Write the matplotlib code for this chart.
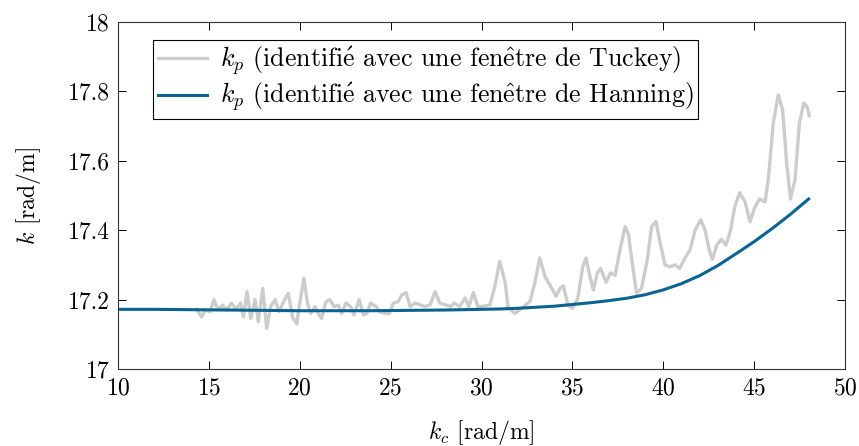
import matplotlib.pyplot as plt

plt.rcParams['font.family'] = ['cmr10', 'DejaVu Serif']
plt.rcParams['mathtext.fontset'] = 'cm'
plt.rcParams['axes.formatter.use_mathtext'] = True

# k_p identifie avec la fenetre de Tuckey (bruite)
kc_tuckey = [14.33, 14.6, 14.8, 15.06, 15.28, 15.5, 15.75, 15.98, 16.25, 16.5,
             16.75, 16.9, 17.1, 17.3, 17.54, 17.72, 17.96, 18.18, 18.4, 18.64,
             18.87, 19.1, 19.37, 19.6, 19.83, 20.0, 20.23, 20.42, 20.6, 20.84,
             21.02, 21.2, 21.44, 21.66, 21.88, 22.12, 22.3, 22.54, 22.8, 22.98,
             23.27, 23.5, 23.68, 23.9, 24.2, 24.4, 24.7, 24.93, 25.15, 25.42,
             25.6, 25.85, 26.07, 26.34, 26.6, 26.9, 27.17, 27.44, 27.7, 28.0,
             28.3, 28.5, 28.8, 29.1, 29.3, 29.55, 29.8, 30.0, 30.47, 30.74,
             31.0, 31.3, 31.46, 31.84, 32.2, 32.67, 32.94, 33.2, 33.5, 33.77,
             34.1, 34.32, 34.5, 34.76, 35.0, 35.3, 35.57, 35.75, 35.97, 36.15,
             36.37, 36.55, 36.85, 37.1, 37.35, 37.58, 37.9, 38.08, 38.32, 38.53,
             38.8, 39.12, 39.36, 39.6, 39.8, 40.1, 40.37, 40.65, 40.9, 41.2,
             41.47, 41.75, 42.06, 42.3, 42.53, 42.7, 42.94, 43.2, 43.45, 43.7,
             43.94, 44.2, 44.5, 44.77, 45.05, 45.3, 45.6, 45.78, 46.05, 46.33,
             46.57, 46.79, 47.0, 47.25, 47.49, 47.74, 47.92, 48.03]
k_tuckey = [17.172, 17.15, 17.17, 17.165, 17.20, 17.17, 17.184, 17.17, 17.19, 17.172,
            17.19, 17.15, 17.223, 17.146, 17.20, 17.136, 17.232, 17.117, 17.18, 17.20,
            17.165, 17.194, 17.218, 17.15, 17.13, 17.19, 17.262, 17.19, 17.16, 17.18,
            17.16, 17.146, 17.194, 17.20, 17.18, 17.184, 17.16, 17.19, 17.18, 17.156,
            17.20, 17.156, 17.16, 17.19, 17.18, 17.165, 17.16, 17.16, 17.19, 17.194,
            17.213, 17.22, 17.18, 17.19, 17.185, 17.18, 17.185, 17.223, 17.19, 17.185,
            17.18, 17.19, 17.18, 17.205, 17.18, 17.22, 17.18, 17.18, 17.185, 17.24,
            17.31, 17.25, 17.178, 17.16, 17.175, 17.195, 17.25, 17.32, 17.266, 17.242,
            17.21, 17.232, 17.24, 17.184, 17.175, 17.204, 17.295, 17.32, 17.266, 17.228,
            17.276, 17.29, 17.25, 17.277, 17.27, 17.333, 17.41, 17.39, 17.295, 17.218,
            17.232, 17.314, 17.41, 17.425, 17.37, 17.30, 17.295, 17.30, 17.29, 17.32,
            17.343, 17.40, 17.43, 17.40, 17.343, 17.316, 17.357, 17.374, 17.357, 17.40,
            17.468, 17.508, 17.482, 17.424, 17.468, 17.49, 17.482, 17.545, 17.708, 17.79,
            17.746, 17.593, 17.49, 17.545, 17.708, 17.767, 17.756, 17.73]

# k_p identifie avec la fenetre de Hanning (lisse)
kc_hanning = [10, 12, 14, 16, 18, 20, 22, 24, 26, 28, 30, 31, 32, 33, 34, 35,
              36, 37, 38, 39, 40, 41, 42, 43, 44, 45, 46, 47, 48]
k_hanning = [17.172, 17.172, 17.171, 17.170, 17.169, 17.168, 17.168, 17.168, 17.169,
             17.170, 17.172, 17.173, 17.175, 17.178, 17.181, 17.186, 17.191, 17.197,
             17.204, 17.214, 17.228, 17.246, 17.269, 17.298, 17.332, 17.367, 17.405,
             17.446, 17.49]

fig = plt.figure(figsize=(8.59, 4.46), dpi=100)
ax = fig.add_axes([0.1374, 0.1726, 0.8463, 0.7781])

lbl_t = r'$k_p$ (identifi$\acute{\mathrm{e}}$ avec une fen$\hat{\mathrm{e}}$tre de Tuckey)'
lbl_h = r'$k_p$ (identifi$\acute{\mathrm{e}}$ avec une fen$\hat{\mathrm{e}}$tre de Hanning)'
ax.plot(kc_tuckey, k_tuckey, color='#cccccc', lw=2.4, label=lbl_t)
ax.plot(kc_hanning, k_hanning, color='#0a6391', lw=2.2, label=lbl_h)

ax.set_xlim(10, 50)
ax.set_ylim(17, 18)
ax.set_xticks(range(10, 51, 5))
ax.set_yticks([17, 17.2, 17.4, 17.6, 17.8, 18])
ax.set_yticklabels(['17', '17.2', '17.4', '17.6', '17.8', '18'])
ax.tick_params(direction='in', top=True, right=True, length=6, width=0.7,
               labelsize=17, pad=6)
for s in ax.spines.values():
    s.set_linewidth(0.8)
    s.set_color('#333333')

ax.set_xlabel(r'$k_c$ [rad/m]', fontsize=17, labelpad=13)
ax.set_ylabel(r'$k$ [rad/m]', fontsize=17, labelpad=18)

leg = ax.legend(loc='upper left', bbox_to_anchor=(0.048, 0.948), borderaxespad=0,
                prop={'size': 18.6}, fancybox=False, framealpha=1, edgecolor='black',
                handlelength=1.9, handletextpad=0.5, labelspacing=0.12,
                borderpad=0.18)
leg.get_frame().set_linewidth(0.8)

fig.savefig('out.png', dpi=100)
